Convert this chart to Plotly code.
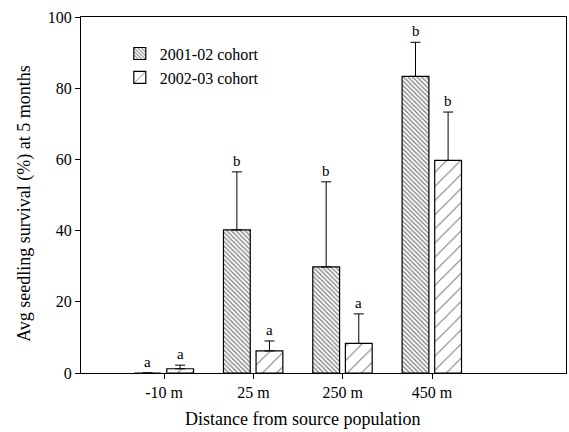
import plotly.graph_objects as go

categories = ["-10 m", "25 m", "250 m", "450 m"]
series_names = ["2001-02 cohort", "2002-03 cohort"]
cohort1 = [0.0, 40.2, 29.8, 83.3]
cohort1_err = [0.0, 16.3, 23.9, 9.6]
cohort2 = [1.2, 6.2, 8.3, 59.7]
cohort2_err = [1.0, 2.8, 8.3, 13.6]
cohort1_letters = ["a", "b", "b", "b"]
cohort2_letters = ["a", "a", "a", "b"]
y_ticks = [0, 20, 40, 60, 80, 100]
x_title = "Distance from source population"
y_title = "Avg seedling survival (%) at 5 months"

FONT = "Liberation Serif, Times New Roman, serif"
pos = [1, 2, 3, 4]
bw = 0.30
offs = [-0.335, 0.03]

fig = go.Figure()
for i, (vals, errs, pat, size, sol) in enumerate([
    (cohort1, cohort1_err, "\\", 3.2, 0.4),
    (cohort2, cohort2_err, "/", 10, 0.11),
]):
    fig.add_trace(go.Bar(
        x=pos, y=vals, name=series_names[i],
        width=bw, offset=offs[i],
        marker=dict(color="white", line=dict(color="black", width=1.2),
                    pattern=dict(shape=pat, size=size, solidity=sol,
                                 fgcolor="black", bgcolor="white")),
        error_y=dict(type="data", array=errs, arrayminus=[0]*len(errs), symmetric=False,
                     color="black", thickness=1, width=5),
    ))

letters = [cohort1_letters, cohort2_letters]
for i, (vals, errs) in enumerate([(cohort1, cohort1_err), (cohort2, cohort2_err)]):
    for j, p in enumerate(pos):
        fig.add_annotation(x=p + offs[i] + bw / 2, y=vals[j] + errs[j], xref="x", yref="y",
                           text=letters[i][j], showarrow=False, yanchor="bottom", yshift=1,
                           font=dict(family=FONT, size=15, color="black"))

fig.add_annotation(x=0.4577, y=-0.129, xref="paper", yref="paper", text=x_title,
                   showarrow=False, xanchor="center", yanchor="middle",
                   font=dict(family=FONT, size=18, color="black"))
fig.add_annotation(x=-0.1155, y=0.478, xref="paper", yref="paper", text=y_title,
                   showarrow=False, xanchor="center", yanchor="middle", textangle=-90,
                   font=dict(family=FONT, size=18, color="black"))

fig.update_layout(
    width=569, height=432,
    margin=dict(l=81, r=3, t=17, b=59),
    paper_bgcolor="white", plot_bgcolor="white",
    barmode="overlay",
    font=dict(family=FONT, size=16, color="black"),
    showlegend=True,
    legend=dict(x=0.08, y=0.945, xanchor="left", yanchor="top", bgcolor="rgba(0,0,0,0)",
                font=dict(family=FONT, size=16), tracegroupgap=0, itemwidth=30),
    xaxis=dict(range=[0.07, 5.5], tickmode="array", tickvals=pos, ticktext=categories,
               showline=True, linecolor="black", linewidth=1, mirror=True,
               ticks="outside", ticklen=5, tickcolor="black", showgrid=False, zeroline=False,
               tickfont=dict(size=16)),
    yaxis=dict(range=[0, 100], tickvals=y_ticks,
               showline=True, linecolor="black", linewidth=1, mirror=True,
               ticks="outside", ticklen=5, tickcolor="black", showgrid=False, zeroline=False,
               tickfont=dict(size=16)),
)

fig.write_html("out.html", config={"displayModeBar": False},
               post_script="document.body.style.margin='0';document.body.style.overflow='hidden';")
